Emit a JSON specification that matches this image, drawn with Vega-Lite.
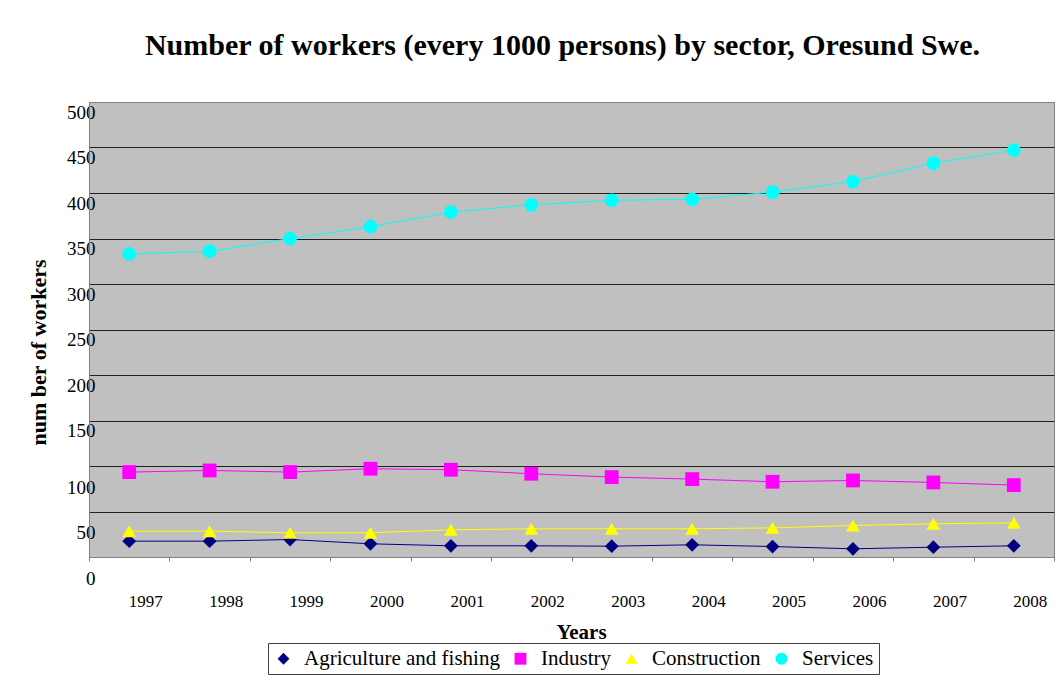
{
  "$schema": "https://vega.github.io/schema/vega-lite/v6.json",
  "width": 965,
  "height": 455,
  "autosize": {"type": "none"},
  "padding": {"left": 89, "top": 102, "right": 6, "bottom": 124},
  "background": "white",
  "title": {
    "text": "Number of workers (every 1000 persons) by sector, Oresund Swe.",
    "font": "Liberation Serif",
    "fontSize": 30,
    "fontWeight": "bold",
    "color": "black",
    "anchor": "middle",
    "baseline": "alphabetic",
    "offset": 17,
    "dx": -9
  },
  "config": {
    "view": {"fill": "#C0C0C0", "stroke": "#808080", "strokeWidth": 1}
  },
  "data": {
    "values": [
      {"year": "1997", "sector": "Agriculture and fishing", "workers": 17.4},
      {"year": "1998", "sector": "Agriculture and fishing", "workers": 17.4},
      {"year": "1999", "sector": "Agriculture and fishing", "workers": 19.2},
      {"year": "2000", "sector": "Agriculture and fishing", "workers": 14.5},
      {"year": "2001", "sector": "Agriculture and fishing", "workers": 12.3},
      {"year": "2002", "sector": "Agriculture and fishing", "workers": 12.3},
      {"year": "2003", "sector": "Agriculture and fishing", "workers": 11.9},
      {"year": "2004", "sector": "Agriculture and fishing", "workers": 13.4},
      {"year": "2005", "sector": "Agriculture and fishing", "workers": 11.5},
      {"year": "2006", "sector": "Agriculture and fishing", "workers": 9.0},
      {"year": "2007", "sector": "Agriculture and fishing", "workers": 10.8},
      {"year": "2008", "sector": "Agriculture and fishing", "workers": 12.3},
      {"year": "1997", "sector": "Industry", "workers": 93.3},
      {"year": "1998", "sector": "Industry", "workers": 95.1},
      {"year": "1999", "sector": "Industry", "workers": 93.3},
      {"year": "2000", "sector": "Industry", "workers": 97.0},
      {"year": "2001", "sector": "Industry", "workers": 95.9},
      {"year": "2002", "sector": "Industry", "workers": 91.5},
      {"year": "2003", "sector": "Industry", "workers": 87.8},
      {"year": "2004", "sector": "Industry", "workers": 85.6},
      {"year": "2005", "sector": "Industry", "workers": 82.7},
      {"year": "2006", "sector": "Industry", "workers": 84.1},
      {"year": "2007", "sector": "Industry", "workers": 81.9},
      {"year": "2008", "sector": "Industry", "workers": 79.0},
      {"year": "1997", "sector": "Construction", "workers": 28.4},
      {"year": "1998", "sector": "Construction", "workers": 28.4},
      {"year": "1999", "sector": "Construction", "workers": 26.6},
      {"year": "2000", "sector": "Construction", "workers": 26.6},
      {"year": "2001", "sector": "Construction", "workers": 29.9},
      {"year": "2002", "sector": "Construction", "workers": 31.0},
      {"year": "2003", "sector": "Construction", "workers": 31.0},
      {"year": "2004", "sector": "Construction", "workers": 31.0},
      {"year": "2005", "sector": "Construction", "workers": 32.0},
      {"year": "2006", "sector": "Construction", "workers": 34.6},
      {"year": "2007", "sector": "Construction", "workers": 36.5},
      {"year": "2008", "sector": "Construction", "workers": 37.6},
      {"year": "1997", "sector": "Services", "workers": 333},
      {"year": "1998", "sector": "Services", "workers": 336},
      {"year": "1999", "sector": "Services", "workers": 350},
      {"year": "2000", "sector": "Services", "workers": 363},
      {"year": "2001", "sector": "Services", "workers": 379},
      {"year": "2002", "sector": "Services", "workers": 387},
      {"year": "2003", "sector": "Services", "workers": 392},
      {"year": "2004", "sector": "Services", "workers": 393},
      {"year": "2005", "sector": "Services", "workers": 401},
      {"year": "2006", "sector": "Services", "workers": 412.6},
      {"year": "2007", "sector": "Services", "workers": 432.7},
      {"year": "2008", "sector": "Services", "workers": 447}
    ]
  },
  "encoding": {
    "x": {
      "field": "year",
      "type": "ordinal",
      "scale": {"type": "band", "paddingInner": 0, "paddingOuter": 0},
      "axis": {
        "title": "Years",
        "titleFont": "Liberation Serif",
        "titleFontSize": 21,
        "titleFontWeight": "bold",
        "titleColor": "black",
        "titleX": 492,
        "titleY": 81,
        "titleBaseline": "alphabetic",
        "labelAngle": 0,
        "labelFont": "Liberation Serif",
        "labelFontSize": 17,
        "labelColor": "black",
        "labelOffset": 16,
        "labelPadding": 32,
        "tickBand": "extent",
        "tickSize": 4,
        "tickColor": "#808080",
        "domainColor": "#808080",
        "grid": false
      }
    },
    "y": {
      "field": "workers",
      "type": "quantitative",
      "scale": {"domain": [0, 500], "nice": false},
      "axis": {
        "values": [0, 50, 100, 150, 200, 250, 300, 350, 400, 450, 500],
        "title": "num ber of workers",
        "titleFont": "Liberation Serif",
        "titleFontSize": 22,
        "titleFontWeight": "bold",
        "titleColor": "black",
        "titleAngle": 270,
        "titleX": -44,
        "titleY": 250,
        "titleBaseline": "alphabetic",
        "labelFont": "Liberation Serif",
        "labelFontSize": 19,
        "labelColor": "black",
        "labelPadding": -6,
        "labelOffset": {"condition": {"test": "datum.value <= 100", "value": 21}, "value": 10},
        "ticks": false,
        "domainColor": "#808080",
        "grid": true,
        "gridColor": {"condition": {"test": "datum.value >= 500 || datum.value <= 0", "value": "#808080"}, "value": "#202020"},
        "gridWidth": 1
      }
    },
    "color": {
      "field": "sector",
      "type": "nominal",
      "scale": {
        "domain": ["Agriculture and fishing", "Industry", "Construction", "Services"],
        "range": ["#000080", "#FF00FF", "#FFFF00", "#00FFFF"]
      },
      "legend": {
        "title": null,
        "orient": "none",
        "legendX": 179,
        "legendY": 541,
        "direction": "horizontal",
        "strokeColor": "#404040",
        "fillColor": "white",
        "padding": 5,
        "labelFont": "Liberation Serif",
        "labelFontSize": 21,
        "labelColor": "black",
        "labelOffset": 10,
        "columnPadding": 10,
        "symbolSize": 140,
        "symbolStrokeWidth": 0,
        "labelLimit": 400
      }
    },
    "shape": {
      "field": "sector",
      "type": "nominal",
      "scale": {
        "domain": ["Agriculture and fishing", "Industry", "Construction", "Services"],
        "range": ["diamond", "square", "triangle-up", "circle"]
      }
    }
  },
  "layer": [
    {
      "mark": {"type": "line", "strokeWidth": 1},
      "encoding": {"shape": {"value": null}}
    },
    {
      "mark": {"type": "point", "filled": true, "opacity": 1, "size": 190}
    }
  ]
}
